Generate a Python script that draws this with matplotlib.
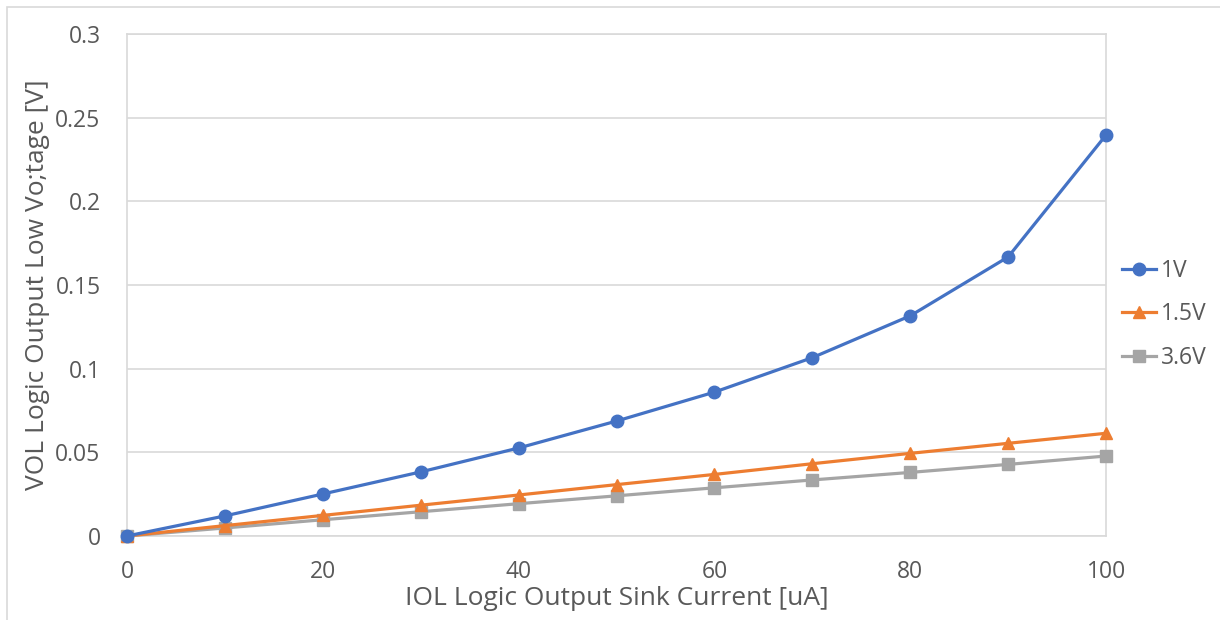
import numpy as np
import matplotlib
matplotlib.use("Agg")
import matplotlib.pyplot as plt
import matplotlib.patches as patches

plt.rcParams['font.family'] = ['Open Sans', 'DejaVu Sans']

current_ua = [0, 10, 20, 30, 40, 50, 60, 70, 80, 90, 100]
vol_1v = [0, 0.012, 0.0251, 0.0383, 0.0526, 0.0687, 0.086, 0.1066, 0.1316, 0.1668, 0.2397]
vol_1v5 = [0, 0.0062, 0.0123, 0.0184, 0.0245, 0.0307, 0.0368, 0.0432, 0.0494, 0.0554, 0.0614]
vol_3v6 = [0, 0.0048, 0.0097, 0.0145, 0.0193, 0.024, 0.0288, 0.0335, 0.0380, 0.0428, 0.0478]
series_names = ['1V', '1.5V', '3.6V']

txt = '#595959'
grid = '#d9d9d9'

fig = plt.figure(figsize=(12.2, 6.2), dpi=100)
ax = fig.add_axes([0.1041, 0.1355, 0.8025, 0.8095])

# outer chart border
fig.patches.append(patches.Rectangle((7/1220, -0.01), 1.02, 1 - 7/620 + 0.01,
                                     transform=fig.transFigure, fill=False,
                                     edgecolor=grid, linewidth=1.2))

ax.plot(current_ua, vol_1v, color='#4472C4', marker='o', markersize=9, lw=2.3,
        label=series_names[0], clip_on=False, zorder=5)
ax.plot(current_ua, vol_1v5, color='#ED7D31', marker='^', markersize=9, lw=2.3,
        label=series_names[1], clip_on=False, zorder=4)
ax.plot(current_ua, vol_3v6, color='#A5A5A5', marker='s', markersize=8, lw=2.3,
        label=series_names[2], clip_on=False, zorder=3)

ax.set_xlim(0, 100)
ax.set_ylim(0, 0.3)
ax.set_xticks([0, 20, 40, 60, 80, 100])
ax.set_yticks([0, 0.05, 0.1, 0.15, 0.2, 0.25, 0.3])
ax.set_yticklabels(['0', '0.05', '0.1', '0.15', '0.2', '0.25', '0.3'])
ax.yaxis.grid(True, color=grid, lw=1.2)
ax.set_axisbelow(True)
for s in ax.spines.values():
    s.set_color(grid)
    s.set_linewidth(1.2)
ax.tick_params(length=0, labelsize=16.5, colors=txt)
ax.tick_params(axis='y', pad=19)
ax.tick_params(axis='x', pad=17)

ax.set_xlabel('IOL Logic Output Sink Current [uA]', fontsize=19, color=txt, labelpad=2)
ax.set_ylabel('VOL Logic Output Low Vo;tage [V]', fontsize=19, color=txt, labelpad=4)

leg = ax.legend(loc='center left', bbox_to_anchor=(1.0, 0.442), frameon=False,
                fontsize=16.5, handlelength=1.5, handletextpad=0.2,
                labelspacing=0.85, borderaxespad=0.3)
for t in leg.get_texts():
    t.set_color(txt)

fig.savefig('out.png', dpi=100)
